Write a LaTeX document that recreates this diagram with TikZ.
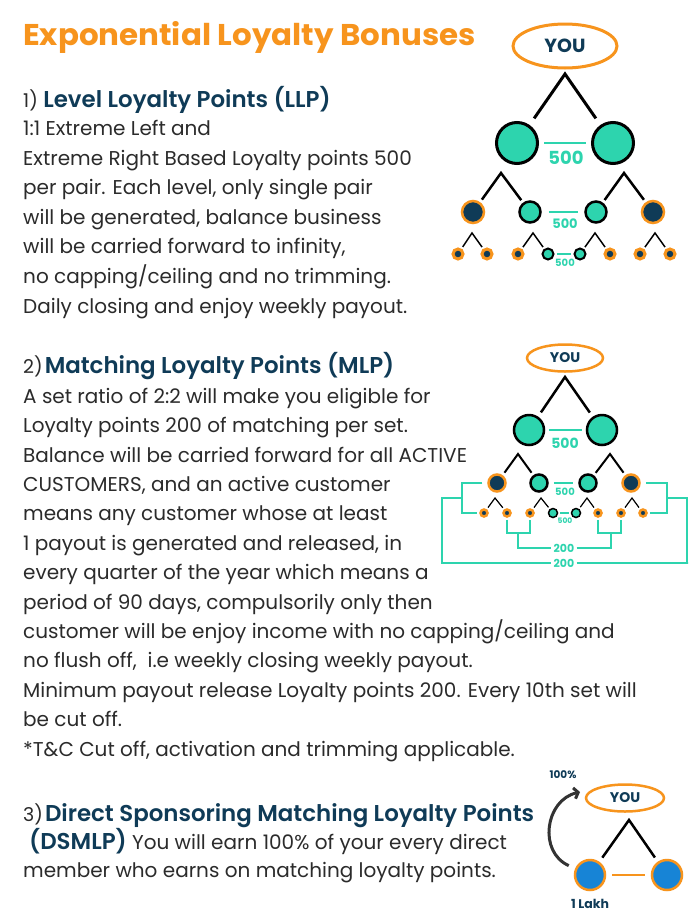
\documentclass[tikz,border=0pt]{standalone}
\usepackage{fontspec}
\setmainfont{Poppins}
\newfontfamily\semifont{Poppins SemiBold}
\usetikzlibrary{shapes.geometric,arrows.meta}
\definecolor{orangeC}{HTML}{F7941D}
\definecolor{tealC}{HTML}{2DD4AE}
\definecolor{navyC}{HTML}{0F3B57}
\definecolor{blueC}{HTML}{1784D6}
\definecolor{textC}{HTML}{2B2B2B}
\definecolor{arrowC}{HTML}{333333}
\tikzstyle{you}=[ellipse,
draw=orangeC,
fill=white,
inner sep=0pt,
text=navyC]
\tikzstyle{member}=[circle,
fill=tealC,
draw=black,
inner sep=0pt]
\tikzstyle{ring}=[circle,
fill=navyC,
draw=orangeC,
inner sep=0pt]
\tikzstyle{direct}=[circle,
fill=blueC,
draw=orangeC,
line width=2.5pt,
minimum size=30pt,
inner sep=0pt]
\tikzstyle{link}=[draw=black,
line width=3pt]
\tikzstyle{pair}=[draw=tealC,
line width=2pt]
\tikzstyle{bracket}=[draw=tealC,
line width=1.5pt]
\tikzstyle{amount}=[text=tealC,
inner sep=0pt]
\tikzstyle{body}=[anchor=base west,
align=left,
text=textC,
inner sep=0pt]
\tikzstyle{heading}=[anchor=base west,
text=navyC,
inner sep=0pt]

\begin{document}
\begin{tikzpicture}[x=1pt,y=-1pt]
		% page size and white background
		\fill[white] (0,0) rectangle (700,919);
		\useasboundingbox (0,0) rectangle (700,919);
		
		% Texts on the left (a paragraph node sits on the baseline of its last line)
		\node (title) [anchor=base west, text=orangeC, inner sep=0pt, xscale=1.03,
		font=\bfseries\fontsize{30}{30}\selectfont] at (23,45) {Exponential Loyalty Bonuses};
		
		\node (h1) [heading, font=\semifont\fontsize{22.9}{22.9}\selectfont] at (23,107)
		{{\color{textC}\normalfont\fontsize{19}{19}\selectfont 1)} Level Loyalty Points (LLP)};
		\node (p1) [body, font=\fontsize{20}{29.6}\selectfont] at (23,313)
		{1:1 Extreme Left and\\
		Extreme Right Based Loyalty points 500\\
		per pair. Each level, only single pair\\
		will be generated, balance business\\
		will be carried forward to infinity,\\
		no capping/ceiling and no trimming.\\
		Daily closing and enjoy weekly payout.};
		
		\node (h2) [heading, font=\semifont\fontsize{22.9}{22.9}\selectfont] at (23,373)
		{{\color{textC}\normalfont\fontsize{19}{19}\selectfont 2)}\hspace{2pt}Matching Loyalty Points (MLP)};
		\node (p2) [body, font=\fontsize{20}{29.4}\selectfont] at (23,756)
		{A set ratio of 2:2 will make you eligible for\\
		Loyalty points 200 of matching per set.\\
		Balance will be carried forward for all ACTIVE\\
		CUSTOMERS, and an active customer\\
		means any customer whose at least\\
		1 payout is generated and released, in\\
		every quarter of the year which means a\\
		period of 90 days, compulsorily only then\\
		customer will be enjoy income with no capping/ceiling and\\
		no flush off,\ \ i.e weekly closing weekly payout.\\
		Minimum payout release Loyalty points 200. Every 10th set will\\
		be cut off.\\
		*T\&C Cut off, activation and trimming applicable.};
		
		\node (h3) [heading, font=\semifont\fontsize{22.9}{22.9}\selectfont] at (23,821)
		{{\color{textC}\normalfont\fontsize{19}{19}\selectfont 3)}\hspace{2pt}Direct Sponsoring Matching Loyalty Points};
		\node (p3) [body, font=\fontsize{20}{28}\selectfont] at (23,877)
		{\hspace{6pt}{\color{navyC}\semifont\fontsize{22.9}{22.9}\selectfont(DSMLP)} You will earn 100\% of your every direct\\
		member who earns on matching loyalty points.};
		
		% First tree: level loyalty points
		\node (youA) [you, minimum width=104pt, minimum height=44pt, line width=3pt,
		font=\bfseries\fontsize{19}{19}\selectfont] at (565,46) {YOU};
		\node (A1) [member, minimum size=41pt, line width=3pt] at (517,143) {};
		\node (A2) [member, minimum size=41pt, line width=3pt] at (613,143) {};
		\node (A11) [ring, minimum size=22pt, line width=2.5pt] at (473,212) {};
		\node (A12) [member, minimum size=21pt, line width=2.5pt] at (530,212) {};
		\node (A21) [member, minimum size=21pt, line width=2.5pt] at (596,212) {};
		\node (A22) [ring, minimum size=22pt, line width=2.5pt] at (653,212) {};
		\node (A111) [ring, minimum size=10pt, line width=3pt] at (458,254) {};
		\node (A112) [ring, minimum size=10pt, line width=3pt] at (487,254) {};
		\node (A121) [ring, minimum size=10pt, line width=3pt] at (518,254) {};
		\node (A122) [member, minimum size=11pt, line width=2pt] at (548,254) {};
		\node (A211) [member, minimum size=11pt, line width=2pt] at (580,254) {};
		\node (A212) [ring, minimum size=10pt, line width=3pt] at (610,254) {};
		\node (A221) [ring, minimum size=10pt, line width=3pt] at (640,254) {};
		\node (A222) [ring, minimum size=10pt, line width=3pt] at (670,254) {};
		
		\coordinate (kA) at (565,74);
		\coordinate (kA1) at (501,173);
		\coordinate (kA2) at (624,173);
		\coordinate (kA11) at (472,233);
		\coordinate (kA12) at (533,233);
		\coordinate (kA21) at (595,233);
		\coordinate (kA22) at (655,233);
		
		\draw[link, shorten <=8pt, shorten >=8pt] (A1) -- (kA) -- (A2);
		\draw[link, line width=2.5pt, shorten <=3pt, shorten >=3pt] (A11) -- (kA1) -- (A12);
		\draw[link, line width=2.5pt, shorten <=3pt, shorten >=3pt] (A21) -- (kA2) -- (A22);
		\draw[link, line width=1.5pt, shorten <=2pt, shorten >=2pt] (A111) -- (kA11) -- (A112);
		\draw[link, line width=1.5pt, shorten <=2pt, shorten >=2pt] (A121) -- (kA12) -- (A122);
		\draw[link, line width=1.5pt, shorten <=2pt, shorten >=2pt] (A211) -- (kA21) -- (A212);
		\draw[link, line width=1.5pt, shorten <=2pt, shorten >=2pt] (A221) -- (kA22) -- (A222);
		
		% pairs of the first tree
		\draw[pair, line width=2.5pt, shorten <=5pt, shorten >=5pt] (A1) -- (A2);
		\node (vA1) [amount, font=\bfseries\fontsize{18}{18}\selectfont] at (566,158) {500};
		\draw[pair, shorten <=7pt, shorten >=6pt] (A12) -- (A21);
		\node (vA2) [amount, font=\bfseries\fontsize{13}{13}\selectfont] at (565,224) {500};
		\draw[pair, line width=1.5pt, shorten <=2.5pt, shorten >=2.5pt] (A122) -- (A211);
		\node (vA3) [amount, font=\bfseries\fontsize{10}{10}\selectfont] at (565,263) {500};
		
		% Second tree: matching loyalty points
		\node (youB) [you, minimum width=76pt, minimum height=27pt, line width=2.5pt,
		font=\bfseries\fontsize{14}{14}\selectfont] at (565,358) {YOU};
		\node (B1) [member, minimum size=30pt, line width=2.5pt] at (529,430) {};
		\node (B2) [member, minimum size=30pt, line width=2.5pt] at (602,430) {};
		\node (B11) [ring, minimum size=17pt, line width=2.5pt] at (497,483) {};
		\node (B12) [member, minimum size=17pt, line width=2.5pt] at (539,483) {};
		\node (B21) [member, minimum size=17pt, line width=2.5pt] at (588,483) {};
		\node (B22) [ring, minimum size=17pt, line width=2.5pt] at (631,483) {};
		\node (B111) [ring, minimum size=7pt, line width=2.5pt] at (484,513) {};
		\node (B112) [ring, minimum size=7pt, line width=2.5pt] at (507,513) {};
		\node (B121) [ring, minimum size=7pt, line width=2.5pt] at (530,513) {};
		\node (B122) [member, minimum size=9pt, line width=1.5pt] at (553,513) {};
		\node (B211) [member, minimum size=9pt, line width=1.5pt] at (576,513) {};
		\node (B212) [ring, minimum size=7pt, line width=2.5pt] at (598,513) {};
		\node (B221) [ring, minimum size=7pt, line width=2.5pt] at (621,513) {};
		\node (B222) [ring, minimum size=7pt, line width=2.5pt] at (643,513) {};
		
		\coordinate (kB) at (565,377);
		\coordinate (kB1) at (518,454);
		\coordinate (kB2) at (610,454);
		\coordinate (kB11) at (495,498);
		\coordinate (kB12) at (541,498);
		\coordinate (kB21) at (587,498);
		\coordinate (kB22) at (632,498);
		
		\draw[link, line width=2.5pt, shorten <=5pt, shorten >=5pt] (B1) -- (kB) -- (B2);
		\draw[link, line width=2pt, shorten <=3pt, shorten >=3pt] (B11) -- (kB1) -- (B12);
		\draw[link, line width=2pt, shorten <=3pt, shorten >=3pt] (B21) -- (kB2) -- (B22);
		\draw[link, line width=1.2pt, shorten <=2pt, shorten >=2pt] (B111) -- (kB11) -- (B112);
		\draw[link, line width=1.2pt, shorten <=2pt, shorten >=2pt] (B121) -- (kB12) -- (B122);
		\draw[link, line width=1.2pt, shorten <=2pt, shorten >=2pt] (B211) -- (kB21) -- (B212);
		\draw[link, line width=1.2pt, shorten <=2pt, shorten >=2pt] (B221) -- (kB22) -- (B222);
		
		% pairs of the second tree
		\draw[pair, shorten <=4pt, shorten >=4pt] (B1) -- (B2);
		\node (vB1) [amount, font=\bfseries\fontsize{14}{14}\selectfont] at (565,443) {500};
		\draw[pair, line width=1.5pt, shorten <=5pt, shorten >=5pt] (B12) -- (B21);
		\node (vB2) [amount, font=\bfseries\fontsize{10}{10}\selectfont] at (565,492) {500};
		\draw[pair, line width=1.2pt, shorten <=1.5pt, shorten >=1.5pt] (B122) -- (B211);
		\node (vB3) [amount, font=\bfseries\fontsize{7.5}{7.5}\selectfont] at (565,521) {500};
		
		% the 2:2 sets are framed by brackets
		\coordinate (sL) at (462,498);
		\coordinate (sR) at (667,498);
		\coordinate (sI) at (518,533);
		\coordinate (sJ) at (611,533);
		\draw[bracket] ([xshift=-5pt]B11.west) -| (sL) |- ([xshift=-2pt]B111.west);
		\draw[bracket] ([xshift=5pt]B22.east) -| (sR) |- ([xshift=2pt]B222.east);
		\draw[bracket] ([yshift=-2pt]B112.south) |- (sI) -| ([yshift=-2pt]B121.south);
		\draw[bracket] ([yshift=-2pt]B212.south) |- (sJ) -| ([yshift=-2pt]B221.south);
		\node (set1) [amount, fill=white, inner sep=2pt, font=\bfseries\fontsize{11}{11}\selectfont] at (564,548) {200};
		\node (set2) [amount, fill=white, inner sep=2pt, font=\bfseries\fontsize{11}{11}\selectfont] at (564,563) {200};
		\draw[bracket] (sI) -- ++(0,15) -- (set1) -- ++(47,0) -| (sJ);
		\draw[bracket] (sL) -- ++(-20,0) -- ++(0,65) -- (set2) -- ++(124,0) -| ([xshift=20pt]sR) -- (sR);
		
		% Third tree: direct sponsoring
		\node (youC) [you, minimum width=78pt, minimum height=27pt, line width=2.5pt,
		font=\bfseries\fontsize{14}{14}\selectfont] at (625,798) {YOU};
		\node (C1) [direct] at (590,875) {};
		\node (C2) [direct] at (667,875) {};
		\coordinate (kC) at (629,820);
		\draw[link, line width=2.5pt, shorten <=5pt, shorten >=5pt] (C1) -- (kC) -- (C2);
		\draw[draw=orangeC, line width=2pt, shorten <=6pt, shorten >=6pt] (C1) -- (C2);
		\node (lakh) [text=navyC, font=\bfseries\fontsize{12.5}{12.5}\selectfont] at (590,904) {1 Lakh};
		\node (pct) [text=navyC, font=\bfseries\fontsize{10.5}{10.5}\selectfont] at (563,775) {100\%};
		\coordinate (tipC) at (580,792);
		\draw[arrowC, line width=3pt, -{Straight Barb[length=4pt,width=11pt]}, shorten <=7pt]
		(C1) .. controls (538,852) and (545,800) .. (tipC);
		\end{tikzpicture}
\end{document}
